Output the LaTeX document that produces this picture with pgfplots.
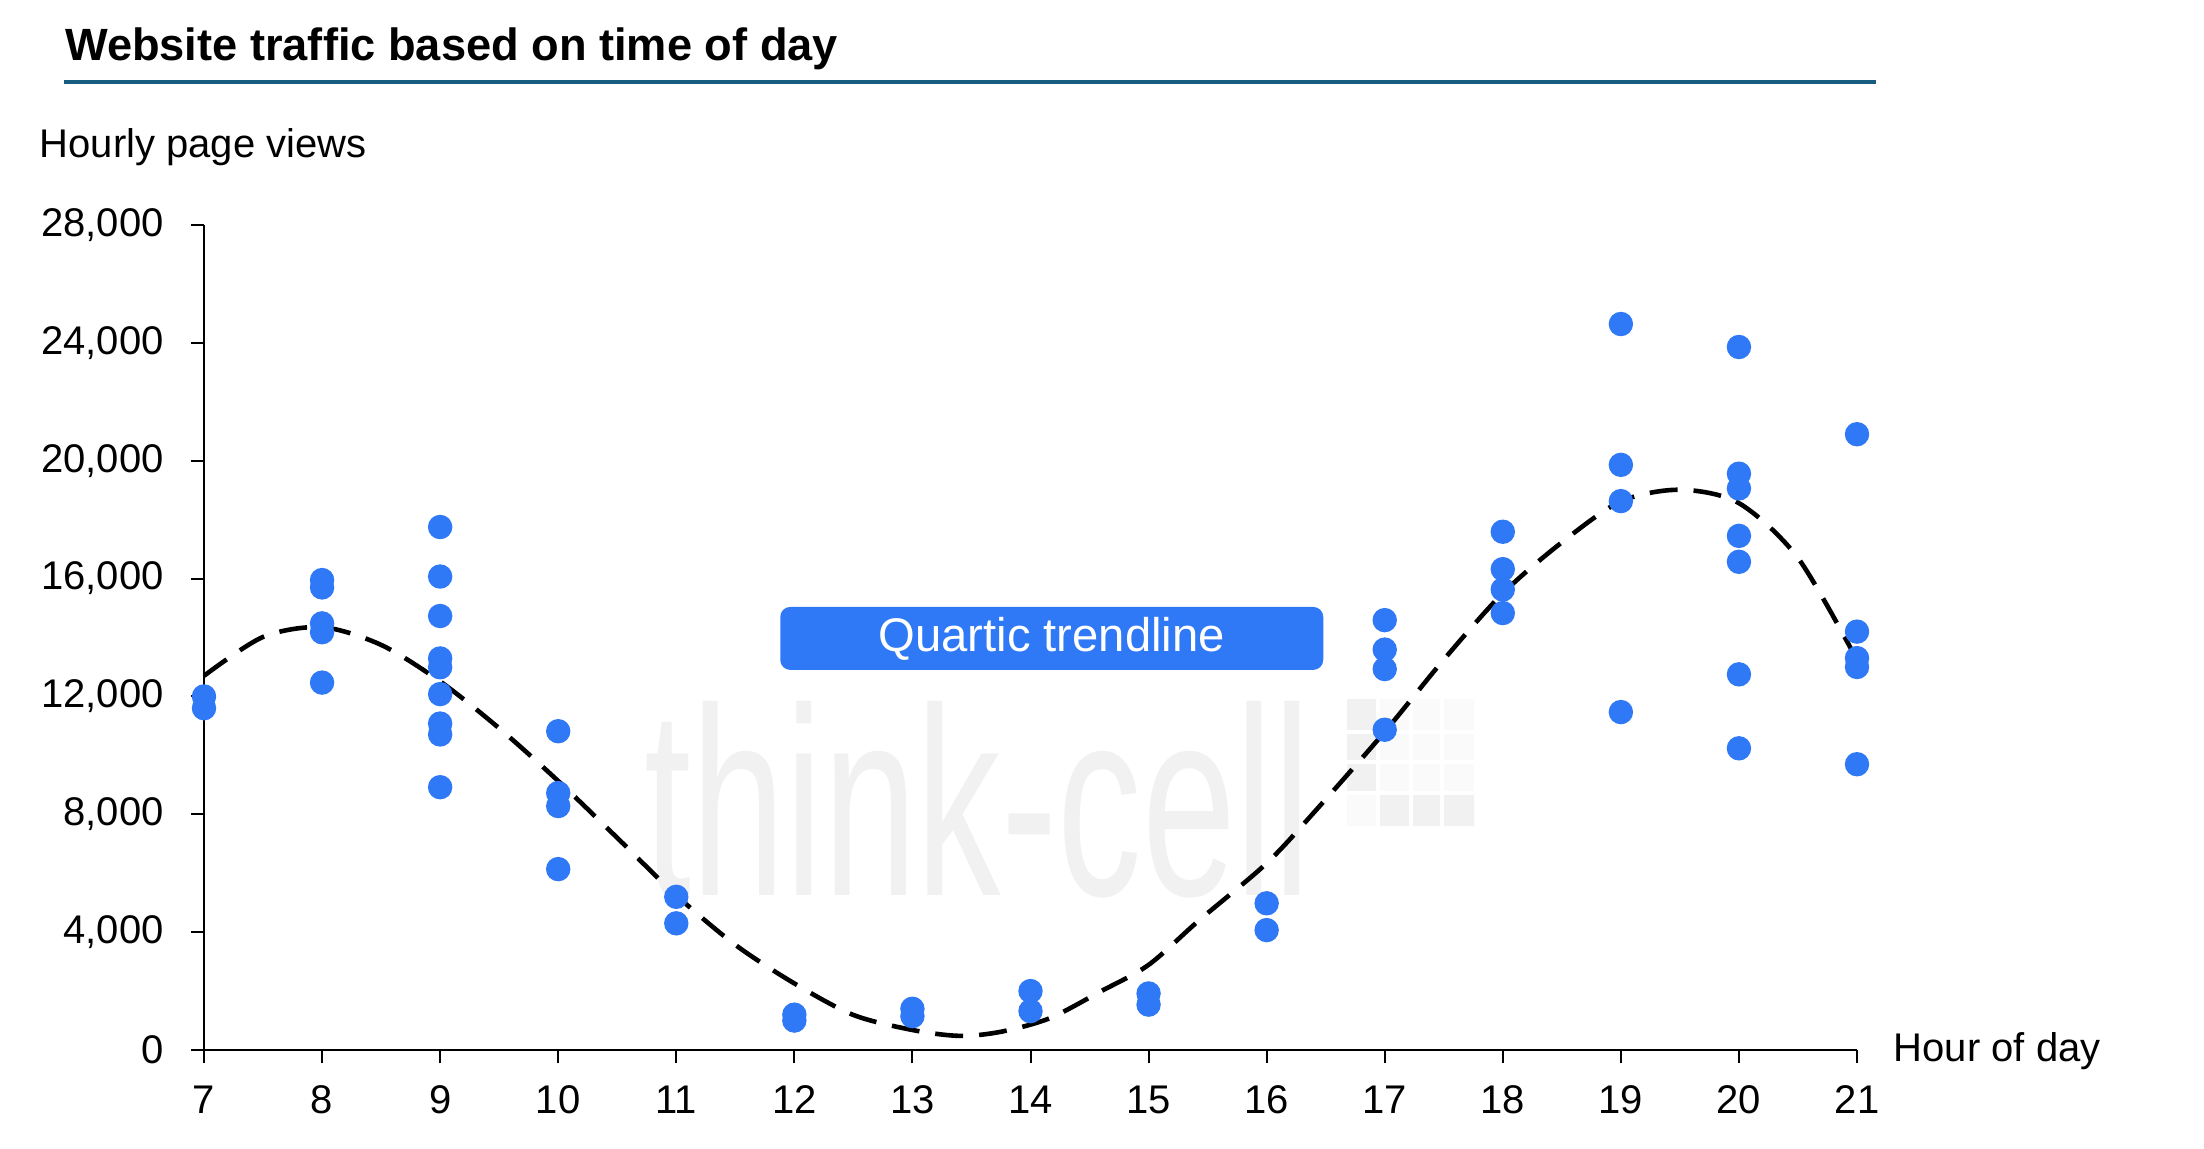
\documentclass[border=0pt]{standalone}
\usepackage{pgfplots}
\pgfplotsset{compat=1.18}
\usepackage{graphicx}
\usepackage{fontspec}
\setmainfont{Liberation Sans}
\definecolor{dotblue}{HTML}{2F78F6}
\definecolor{titleline}{RGB}{24,92,128}
\definecolor{wm}{HTML}{F1F1F1}
\definecolor{wm2}{HTML}{FAFAFA}
\begin{document}
\begin{tikzpicture}[x=1pt,y=1pt]
\path[use as bounding box] (0pt,0pt) rectangle (551pt,-287pt);
% watermark
\node[anchor=base west, inner sep=0, text=wm, font=\fontsize{67}{67}\selectfont] at (161pt,-223.75pt) {\scalebox{0.63}[1]{think-cell}};
\fill[wm] (336.75pt,-174.75pt) rectangle (368.5pt,-206.5pt);
\fill[wm2] (344.6pt,-174.75pt) rectangle (368.5pt,-182.9pt);
\fill[wm2] (344.6pt,-182.9pt) rectangle (368.5pt,-190.5pt);
\fill[wm2] (344.6pt,-190.5pt) rectangle (368.5pt,-198.2pt);
\fill[wm2] (336.75pt,-198.2pt) rectangle (344.6pt,-206.5pt);
\fill[wm] (344.6pt,-206.5pt) -- (352.8pt,-198.2pt) -- (368.5pt,-198.2pt) -- (368.5pt,-206.5pt) -- cycle;
\fill[wm] (336.75pt,-198.2pt) -- (344.6pt,-190.5pt) -- (344.6pt,-198.2pt) -- cycle;
\foreach \xx in {344.6,352.8,360.4} {\draw[white,line width=1pt] (\xx pt,-174.75pt) -- (\xx pt,-206.5pt);}
\foreach \yy in {-182.9,-190.5,-198.2} {\draw[white,line width=1pt] (336.75pt,\yy pt) -- (368.5pt,\yy pt);}
% title
\node[anchor=base west, inner sep=0, font=\fontsize{11.3}{13}\selectfont\bfseries] at (16.1pt,-15pt) {Website traffic based on time of day};
\draw[titleline, line width=0.8pt] (16.1pt,-20.5pt) -- (469pt,-20.5pt);
\node[anchor=base west, inner sep=0, font=\fontsize{10}{12}\selectfont] at (9.75pt,-39.25pt) {Hourly page views};
\node[anchor=base west, inner sep=0, font=\fontsize{10}{12}\selectfont] at (473.25pt,-265.3pt) {Hour of day};
\begin{axis}[
  at={(51pt,-262.5pt)}, anchor=south west,
  scale only axis, width=413.25pt, height=206.25pt,
  xmin=7, xmax=21, ymin=0, ymax=28000,
  axis x line*=bottom, axis y line*=left,
  axis line style={line width=0.5pt, -},
  xtick={7,...,21}, ytick={0,4000,...,28000},
  tick align=outside, major tick length=3.35pt,
  tick style={line width=0.5pt, black},
  scaled y ticks=false,
  /pgf/number format/1000 sep={,},
  /pgf/number format/fixed,
  /pgf/number format/assume math mode=true,
  ticklabel style={font=\fontsize{10}{12}\selectfont},
  yticklabel style={xshift=-3.2pt},
  xticklabel style={yshift=-2pt},
  clip=false,
]
\addplot[only marks, mark=*, mark size=2.85pt, color=dotblue, mark options={draw=dotblue, fill=dotblue}] coordinates {
(7,12000) (7,11600)
(8,15950) (8,15700) (8,14480) (8,14180) (8,12470)
(9,17750) (9,16070) (9,14730) (9,13290) (9,12990) (9,12080) (9,11080) (9,10710) (9,8920)
(10,10820) (10,8720) (10,8280) (10,6140)
(11,5200) (11,4300)
(12,1200) (12,1000)
(13,1400) (13,1150)
(14,2000) (14,1320)
(15,1920) (15,1540)
(16,4980) (16,4070)
(17,14590) (17,13590) (17,12930) (17,10870)
(18,17590) (18,16320) (18,15630) (18,14830)
(19,24640) (19,19860) (19,18630) (19,11470)
(20,23860) (20,19560) (20,19060) (20,17450) (20,16570) (20,12750) (20,10240)
(21,20900) (21,14200) (21,13300) (21,13000) (21,9700)
};
\addplot[black, line width=1.15pt, dash pattern=on 7pt off 4pt, smooth] coordinates {
(7,12700) (7.5,14020) (8,14350) (8.5,13750) (9,12510) (9.5,10920) (10,9130)
(10.5,7200) (11,5250) (11.5,3570) (12,2260) (12.5,1190) (13,680) (13.4,480) (13.75,620)
(14.16,1075) (14.59,1980) (15,2890) (15.43,4410) (16,6340) (16.42,8150) (17,10800)
(17.5,13250) (18,15500) (18.5,17230) (19,18620) (19.5,19015) (20,18560)
(20.5,16700) (21,13240)
};
\node[fill=dotblue, text=white, rounded corners=2.5pt, minimum width=135.75pt, minimum height=15.75pt, inner sep=0pt, font=\fontsize{11.8}{13}\selectfont] at (axis cs:14.18,13970) {Quartic trendline};
\end{axis}
\end{tikzpicture}
\end{document}
